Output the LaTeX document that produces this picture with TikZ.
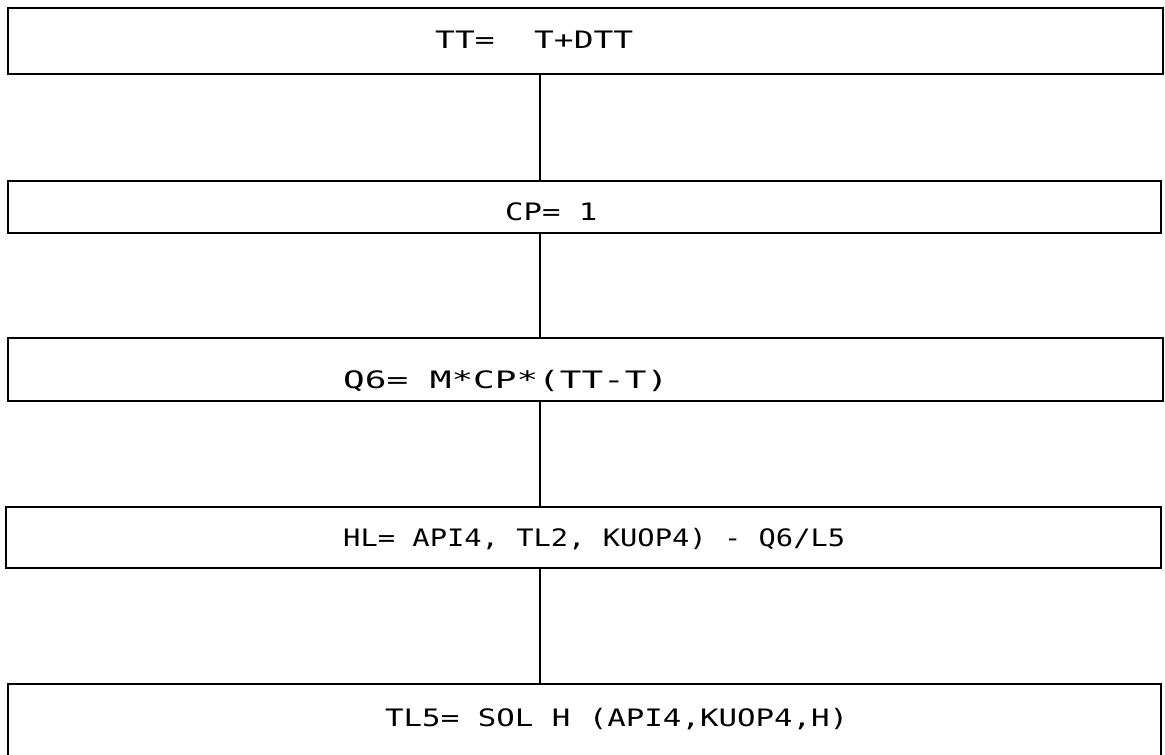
\documentclass[tikz,border=0pt]{standalone}
\usepackage{fontspec}
\usepackage{graphicx}
\newfontfamily\plotfont{DejaVu Sans Mono}
\newcommand{\fitw}[2]{\resizebox{#1}{\height}{#2}}
\begin{document}
\begin{tikzpicture}[x=1pt,y=-1pt,
  box/.style={draw, line width=1.5pt, inner sep=0pt, anchor=north west},
  lbl/.style={anchor=base west, inner sep=0pt, font=\plotfont\fontsize{24}{24}\selectfont},
  link/.style={line width=1.4pt}]
\useasboundingbox (0,0) rectangle (1165,755);
\clip (0,0) rectangle (1165,755);
\fill[white] (0,0) rectangle (1165,755);
\node[box, minimum width=1155pt, minimum height=66pt] (b1) at (7,7) {};
\node[box, minimum width=1153pt, minimum height=52pt] (b2) at (7,180) {};
\node[box, minimum width=1155pt, minimum height=63pt] (b3) at (7,337) {};
\node[box, minimum width=1155pt, minimum height=61pt] (b4) at (5,506) {};
\node[box, minimum width=1153pt, minimum height=95pt] (b5) at (7,683) {};
\node[lbl] (t1) at (435,48) {\fitw{198pt}{TT=~~T+DTT}};
\node[lbl] (t2) at (505,220) {\fitw{92pt}{CP=~1}};
\node[lbl] (t3) at (343,388) {\fitw{325pt}{Q6=~M*CP*(TT-T)}};
\node[lbl] (t4) at (343,546) {\fitw{502pt}{HL=~API4,~TL2,~KUOP4)~-~Q6/L5}};
\node[lbl] (t5) at (385,726) {\fitw{463pt}{TL5=~SOL~H~(API4,KUOP4,H)}};
\coordinate (c) at (540,0);
\draw[link] (b1.south -| c) -- (b2.north -| c);
\draw[link] (b2.south -| c) -- (b3.north -| c);
\draw[link] (b3.south -| c) -- (b4.north -| c);
\draw[link] (b4.south -| c) -- (b5.north -| c);
\end{tikzpicture}
\end{document}
